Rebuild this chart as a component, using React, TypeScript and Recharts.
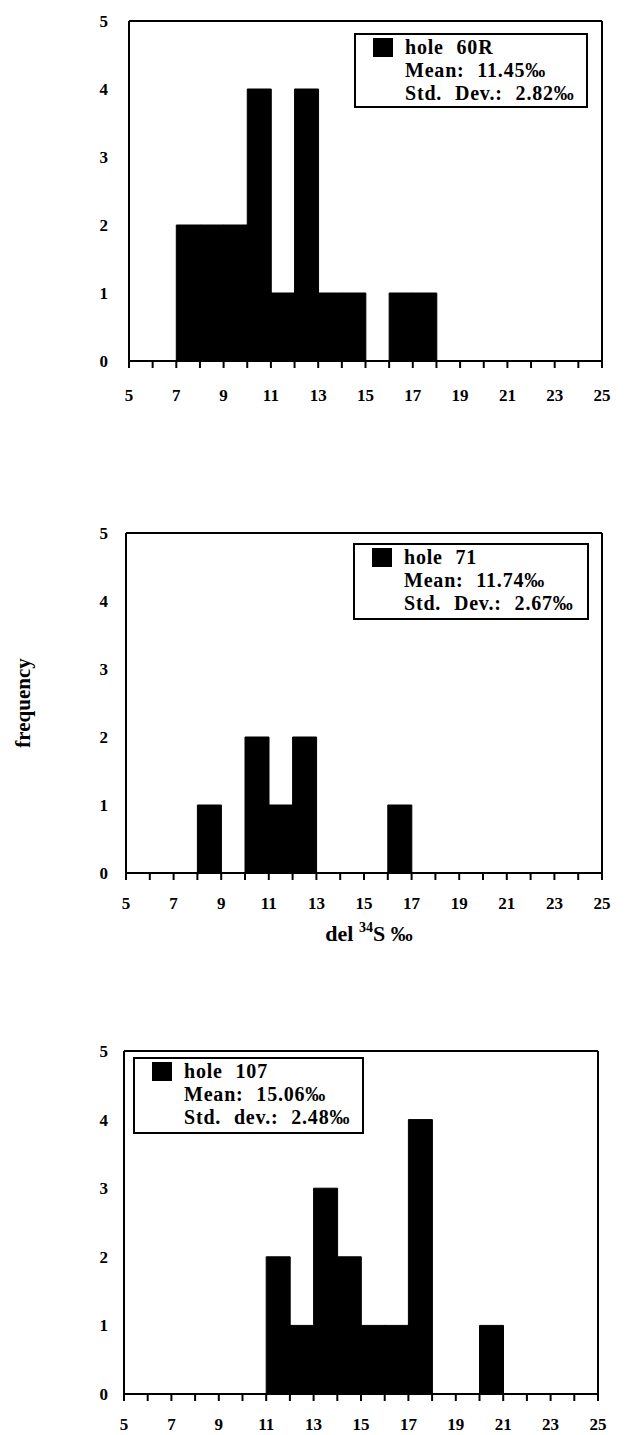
import React from 'react';
import { ComposedChart, Bar, XAxis, YAxis, Legend } from 'recharts';

// histogram bins of 1 permil, from 5 to 25
const BIN_MIDS = [5.5, 6.5, 7.5, 8.5, 9.5, 10.5, 11.5, 12.5, 13.5, 14.5, 15.5, 16.5, 17.5, 18.5, 19.5, 20.5, 21.5, 22.5, 23.5, 24.5];
const X_TICKS = [5, 6, 7, 8, 9, 10, 11, 12, 13, 14, 15, 16, 17, 18, 19, 20, 21, 22, 23, 24, 25];
const X_LABELS = [5, 7, 9, 11, 13, 15, 17, 19, 21, 23, 25];
const Y_TICKS = [0, 1, 2, 3, 4, 5];

const HOLE_60R = [0, 0, 2, 2, 2, 4, 1, 4, 1, 1, 0, 1, 1, 0, 0, 0, 0, 0, 0, 0];
const HOLE_71 = [0, 0, 0, 1, 0, 2, 1, 2, 0, 0, 0, 1, 0, 0, 0, 0, 0, 0, 0, 0];
const HOLE_107 = [0, 0, 0, 0, 0, 0, 2, 1, 3, 2, 1, 1, 4, 0, 0, 1, 0, 0, 0, 0];

const LEGEND_60R = ['hole 60R', 'Mean: 11.45‰', 'Std. Dev.: 2.82‰'];
const LEGEND_71 = ['hole 71', 'Mean: 11.74‰', 'Std. Dev.: 2.67‰'];
const LEGEND_107 = ['hole 107', 'Mean: 15.06‰', 'Std. dev.: 2.48‰'];

const FONT = '"Liberation Serif", "Times New Roman", serif';
const line = { stroke: '#000', strokeWidth: 2 };
const textStyle = { fontFamily: FONT, fontWeight: 700, fontSize: 17 };

const XTick = ({ x, y, payload }: any) =>
  X_LABELS.includes(payload.value) ? (
    <text x={x} y={y} dy="0.71em" textAnchor="middle" fill="#000" style={textStyle}>{payload.value}</text>
  ) : null;

const YTick = ({ x, y, payload }: any) => (
  <text x={x} y={y} dy="0.35em" textAnchor="end" fill="#000" style={textStyle}>{payload.value}</text>
);

type Frame = { left: number; right: number; top: number; bottom: number };
type Box = { x: number; y: number; w: number; h: number };

function Panel({ counts, legend, frame, labelGap, box, titles }: {
  counts: number[]; legend: string[]; frame: Frame; labelGap: number; box: Box; titles?: boolean;
}) {
  const chartTop = frame.top - 20;
  const bottomArea = titles ? 80 : 44;
  const height = frame.bottom - frame.top + 20 + bottomArea;
  const data = BIN_MIDS.map((mid, i) => ({ mid, count: counts[i] }));

  const legendContent = () => (
    <div style={{
      position: 'relative', boxSizing: 'border-box', width: box.w, height: box.h,
      border: '2px solid #000', background: '#fff', padding: '1px 0 0 49px',
      fontFamily: FONT, fontWeight: 700, fontSize: 20, lineHeight: '23px',
      wordSpacing: 7, letterSpacing: 0.8, color: '#000', whiteSpace: 'nowrap',
    }}>
      <div style={{ position: 'absolute', left: 17, top: 3, width: 20, height: 19, background: '#000' }} />
      <div>
        {legend.map((t, i) => (
          <React.Fragment key={t}>{i > 0 && <br />}{t}</React.Fragment>
        ))}
      </div>
    </div>
  );

  const freqLabel = () => {
    const cy = (frame.top + frame.bottom) / 2 - chartTop;
    return (
      <text x={23} y={cy} transform={`rotate(-90, 23, ${cy})`} textAnchor="middle" dominantBaseline="central"
        style={{ fontFamily: FONT, fontWeight: 700, fontSize: 21 }} fill="#000">frequency</text>
    );
  };

  const delLabel = () => (
    <text x={(frame.left + frame.right) / 2 + 5} y={frame.bottom + 68 - chartTop} textAnchor="middle"
      style={{ fontFamily: FONT, fontWeight: 700, fontSize: 22 }} fill="#000">
      del <tspan fontSize={14} dy={-9}>34</tspan><tspan dy={9}>S ‰</tspan>
    </text>
  );

  return (
    <div style={{ position: 'absolute', left: 0, top: chartTop }}>
      <ComposedChart width={626} height={height} data={data} barCategoryGap={0} barGap={0}
        margin={{ top: 10, right: 626 - frame.right, bottom: 4, left: frame.left - 30 }}>
        <XAxis xAxisId="b" type="number" dataKey="mid" domain={[5, 25]} ticks={X_TICKS} interval={0}
          allowDataOverflow height={bottomArea - 4} tickSize={7} tickMargin={labelGap - 7}
          axisLine={line} tickLine={line} tick={<XTick />} label={titles ? delLabel : undefined} />
        <XAxis xAxisId="t" orientation="top" type="number" domain={[5, 25]} ticks={X_TICKS} interval={0}
          allowDataOverflow height={10} tickSize={7} tick={false} axisLine={line} tickLine={line} />
        <YAxis yAxisId="l" type="number" domain={[0, 5]} ticks={Y_TICKS} interval={0} allowDataOverflow
          width={30} tickLine={false} tickSize={0} tickMargin={frame.left - 108} tick={<YTick />}
          axisLine={line} label={titles ? freqLabel : undefined} />
        <YAxis yAxisId="li" mirror type="number" domain={[0, 5]} ticks={Y_TICKS} interval={0} allowDataOverflow
          tick={false} tickSize={6} axisLine={false} tickLine={line} />
        <YAxis yAxisId="ri" orientation="right" mirror type="number" domain={[0, 5]} ticks={Y_TICKS} interval={0}
          allowDataOverflow tick={false} tickSize={6} axisLine={line} tickLine={line} />
        <Bar xAxisId="b" yAxisId="l" dataKey="count" fill="#000" stroke="#000" strokeWidth={1} isAnimationActive={false} />
        <Legend content={legendContent} layout="vertical" align="center" verticalAlign="middle"
          wrapperStyle={{ left: box.x, top: box.y - chartTop, width: box.w, height: box.h }} />
      </ComposedChart>
    </div>
  );
}

export default function App() {
  return (
    <div style={{ position: 'absolute', left: 0, top: 0, width: 626, height: 1435, background: '#fff' }}>
      <Panel counts={HOLE_60R} legend={LEGEND_60R} labelGap={28}
        frame={{ left: 129, right: 602, top: 21, bottom: 361 }} box={{ x: 354, y: 33, w: 234, h: 75 }} />
      <Panel counts={HOLE_71} legend={LEGEND_71} labelGap={24} titles
        frame={{ left: 126, right: 602, top: 533, bottom: 873 }} box={{ x: 353, y: 543, w: 236, h: 77 }} />
      <Panel counts={HOLE_107} legend={LEGEND_107} labelGap={24}
        frame={{ left: 124, right: 598, top: 1051, bottom: 1394 }} box={{ x: 133, y: 1057, w: 231, h: 77 }} />
    </div>
  );
}
